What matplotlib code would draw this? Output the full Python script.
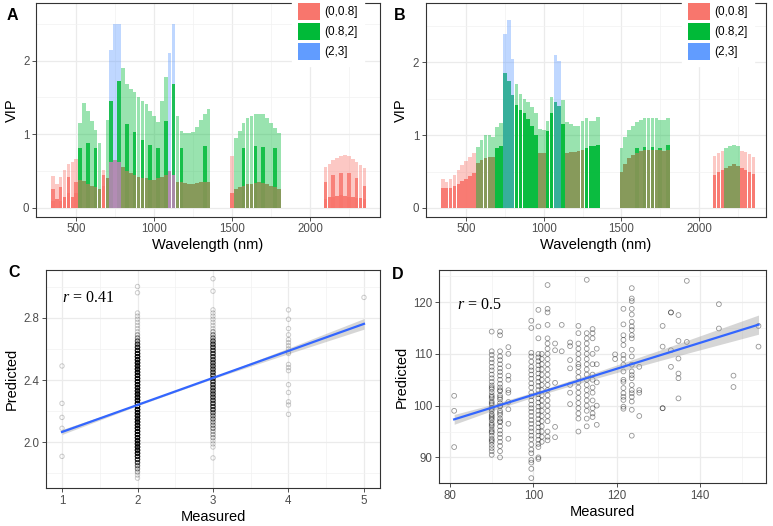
import matplotlib
matplotlib.use('Agg')
import matplotlib.pyplot as plt
import numpy as np
from matplotlib.patches import Patch

plt.rcParams['font.family'] = ['Liberation Sans', 'DejaVu Sans']
plt.rcParams['mathtext.fontset'] = 'custom'
plt.rcParams['mathtext.rm'] = 'Liberation Serif'
plt.rcParams['mathtext.it'] = 'Liberation Serif:italic'

# ---------------- data ----------------
bin_labels = ['(0,0.8]', '(0.8,2]', '(2,3]']
bin_colors = ['#F8766D', '#00BA38', '#619CFF']
bin_edges = [0.8, 2.0]

step = 25
wl_seg1 = np.arange(350, 1351, step)
wl_seg2 = np.arange(1500, 1801, step)
wl_seg3 = np.arange(2100, 2351, step)

# Panel A: upper envelope, dense stripes, dense base
a_upper1 = [0.43,0.32,0.42,0.52,0.60,0.63,0.67,1.15,1.42,1.32,1.18,1.06,0.88,0.52,1.20,2.15,2.50,2.50,1.90,1.68,1.61,1.58,1.50,1.45,1.41,1.32,1.25,1.17,1.45,1.78,2.10,2.50,1.25,1.05,1.02,1.02,1.03,1.10,1.20,1.27,1.35]
a_stripe1 = [0.25,0,0.28,0,0.42,0,0.35,0.82,0,0.88,0,0.82,0,0.45,0,1.45,0,1.72,0,1.14,0,1.03,0,0.92,0,0.85,0,0.82,0,1.18,0,1.68,0,0.82,0,0,0,0,0,0.84,0]
a_base1 = [0.10,0.12,0.10,0.15,0.20,0.15,0.20,0.38,0.36,0.33,0.30,0.28,0.26,0.30,0.40,0.62,0.65,0.62,0.55,0.50,0.48,0.45,0.42,0.40,0.40,0.38,0.38,0.40,0.42,0.45,0.50,0.45,0.35,0.35,0.34,0.33,0.33,0.34,0.35,0.35,0.35]
a_upper2 = [0.70,0.95,1.05,1.15,1.22,1.25,1.27,1.28,1.27,1.22,1.15,1.08,1.02]
a_stripe2 = [0,0,0,0.82,0,0,0.84,0,0.83,0,0,0.81,0]
a_base2 = [0.20,0.25,0.28,0.30,0.32,0.33,0.34,0.35,0.34,0.32,0.30,0.28,0.25]
a_upper3 = [0.55,0.60,0.65,0.68,0.70,0.72,0.70,0.66,0.62,0.58,0.54]
a_stripe3 = [0.35,0,0.45,0,0.48,0,0.47,0,0.40,0,0.30]
a_base3 = [0.12,0.15,0.15,0.16,0.17,0.16,0.15,0.15,0.14,0.13,0.12]

# Panel B
b_upper1 = [0.40,0.36,0.40,0.45,0.52,0.59,0.65,0.70,0.75,0.84,0.93,1.00,1.00,0.97,1.11,1.16,2.39,2.58,2.05,1.70,1.57,1.50,1.46,1.39,1.30,1.09,1.07,1.20,1.52,2.10,2.02,1.48,1.18,1.15,1.12,1.13,1.20,1.23,1.20,1.20,1.25]
b_base1 = [0.27,0.27,0.28,0.30,0.33,0.37,0.40,0.44,0.48,0.62,0.66,0.69,0.70,0.70,0.82,0.85,1.85,1.75,1.55,1.42,1.35,1.30,1.22,1.12,1.00,0.75,0.75,1.05,1.30,1.45,1.40,1.15,0.76,0.77,0.77,0.78,0.79,0.83,0.85,0.85,0.86]
b_upper2 = [0.82,0.97,1.07,1.13,1.18,1.21,1.23,1.23,1.23,1.23,1.21,1.21,1.23]
b_stripe2 = [0,0,0,0,0.82,0,0.84,0,0.84,0,0.83,0,0.86]
b_base2 = [0.50,0.60,0.68,0.73,0.76,0.78,0.79,0.80,0.80,0.79,0.79,0.78,0.80]
b_upper3 = [0.72,0.76,0.78,0.82,0.85,0.86,0.85,0.78,0.77,0.74,0.70]
b_base3 = [0.45,0.50,0.52,0.55,0.58,0.60,0.58,0.55,0.52,0.50,0.46]

# Panel C: measured classes, predicted values (levels + counts for dense columns)
c1_pred = [2.49, 2.25, 2.16, 2.09, 1.91]
c2_levels = [1.77,1.79,1.81,1.83,1.85,1.87,1.89,1.91,1.93,1.95,1.97,1.99,2.01,2.03,2.05,2.07,2.09,2.11,2.13,2.15,2.17,2.19,2.21,2.23,2.25,2.27,2.29,2.31,2.33,2.35,2.37,2.39,2.41,2.43,2.45,2.47,2.49,2.51,2.53,2.55,2.57,2.59,2.61,2.63,2.65,2.67,2.69,2.71,2.73,2.75,2.77,2.79,2.81,2.83,2.96,3.00]
c2_counts = [1,1,2,3,4,6,8,10,12,13,14,14,14,14,14,14,14,14,14,14,14,14,14,14,14,14,14,14,14,14,14,14,14,14,14,14,14,14,14,13,12,10,9,7,5,3,2,1,1,1,1,1,1,1,1,1]
c3_levels = [1.90,1.97,1.99,2.01,2.03,2.05,2.07,2.09,2.11,2.13,2.15,2.17,2.19,2.21,2.23,2.25,2.27,2.29,2.31,2.33,2.35,2.37,2.39,2.41,2.43,2.45,2.47,2.49,2.51,2.53,2.55,2.57,2.59,2.61,2.63,2.65,2.67,2.69,2.71,2.73,2.75,2.77,2.79,2.81,2.83,2.85,2.97,3.05]
c3_counts = [1,1,1,1,2,2,2,3,3,3,4,4,5,7,7,7,7,7,7,7,7,7,7,7,7,7,7,7,7,7,7,7,7,7,7,6,4,3,2,1,1,1,1,1,1,1,1,1]
c4_pred = [2.85, 2.79, 2.73, 2.69, 2.66, 2.64, 2.62, 2.60, 2.58, 2.57, 2.50, 2.48, 2.46, 2.37, 2.32, 2.26, 2.24, 2.18]
c5_pred = [2.93]
c_fit = (1.893, 0.1735)          # intercept, slope
c_band_x = [1, 2, 3, 4, 5]
c_band_hw = [0.016, 0.005, 0.005, 0.018, 0.034]
c_r_text = '0.41'

# Panel D: measured values and predicted values per measured value
d_measured = [81, 90, 92, 94, 99.5, 101.2, 102, 103.4, 105.2, 106.8, 108.8, 110.8, 112.8, 114.2, 115.2,
              119.6, 121.6, 123.6, 125.4, 131, 133, 134.8, 136.8, 144.5, 148, 154]
d_predicted = [
    [101.9, 99.0, 92.0],
    [114.3, 110.5, 109.8, 109.0, 108.3, 107.5, 106.8, 106.0, 105.3, 104.6, 103.9, 103.2, 102.6, 102.0, 101.4, 100.8, 100.2, 99.6, 99.0, 98.4, 97.8, 97.2, 96.6, 96.0, 95.4, 94.8, 94.2, 93.6, 93.0, 92.4, 91.8, 91.2, 90.5, 103.5, 101.7, 100.5, 99.3, 98.1, 97.5, 96.3, 95.0, 93.3],
    [114.3, 113.6, 110.5, 109.5, 108.8, 108.0, 107.2, 106.5, 105.8, 105.0, 104.2, 103.5, 102.8, 102.0, 101.2, 100.5, 99.8, 99.0, 98.2, 97.5, 96.8, 96.0, 95.2, 94.5, 93.8, 93.0, 92.2, 91.2, 90.0, 103.0, 101.6, 100.0, 98.6, 97.0],
    [111.3, 110.0, 107.6, 105.8, 105.0, 103.0, 102.5, 100.7, 99.3, 96.5, 93.6],
    [116.4, 115.0, 110.2, 109.5, 108.5, 107.5, 106.8, 106.0, 105.2, 104.3, 103.5, 102.5, 101.8, 101.0, 100.2, 99.5, 98.8, 98.0, 97.2, 96.5, 95.7, 95.0, 94.2, 93.5, 92.5, 91.5, 90.8, 89.5, 89.0, 87.8, 86.0],
    [118.5, 115.3, 113.0, 110.0, 109.3, 108.6, 107.8, 107.0, 106.2, 105.4, 104.6, 103.8, 103.0, 102.2, 101.4, 100.6, 99.8, 99.0, 98.2, 97.4, 96.6, 95.8, 95.0, 94.2, 93.4, 92.6, 92.0, 90.0, 89.7],
    [110.0, 109.0, 108.0, 107.0, 106.0, 105.0, 104.0, 103.0, 102.0, 101.0, 100.0, 99.0, 98.0, 97.0, 96.0, 95.0, 94.0, 93.0],
    [123.3, 118.7, 118.0, 115.6, 113.0, 112.0, 111.0, 110.0, 109.0, 108.0, 107.0, 106.0, 105.0, 104.0, 103.0, 102.0, 101.0, 100.0, 99.0, 98.0, 97.0, 95.0, 94.0, 93.3],
    [112.0, 110.7, 104.4, 95.9, 93.9],
    [115.6, 110.5],
    [112.2, 111.5, 108.8, 107.2, 104.0, 102.5, 100.3],
    [115.4, 114.0, 112.0, 111.0, 110.0, 109.0, 108.0, 107.5, 106.5, 105.5, 104.5, 103.5, 102.5, 101.5, 100.5, 99.5, 98.5, 97.5, 95.0],
    [124.3, 114.0, 113.0, 112.0, 111.0, 110.0, 109.0, 108.0, 107.0, 106.0, 105.0, 104.0, 103.0, 102.0, 101.0, 100.0, 99.0, 97.5, 96.0],
    [114.8, 114.0, 113.0, 110.0, 108.0, 106.0, 105.0, 103.5, 102.5, 101.0, 99.5, 98.5, 97.8],
    [111.0, 108.0, 104.5, 100.0, 96.3],
    [109.9, 109.0],
    [118.7, 115.7, 113.6, 112.7, 111.7, 109.8, 109.0, 107.9, 106.6, 105.0, 104.6, 103.4, 102.4, 101.7, 101.1, 99.8, 99.4],
    [122.7, 120.7, 120.2, 118.7, 117.6, 116.2, 115.3, 114.6, 113.6, 113.0, 110.8, 109.5, 107.9, 106.6, 105.9, 105.3, 104.0, 103.0, 102.4, 101.7, 100.8, 99.2, 94.2],
    [107.5, 103.0, 102.5, 98.0],
    [99.5, 99.5, 115.4, 111.4],
    [118.0, 118.0, 110.7, 107.5],
    [117.5, 112.5, 109.1, 106.2, 105.3, 101.4],
    [124.1, 112.3],
    [119.6, 114.9],
    [105.8, 103.6],
    [115.4, 111.4],
]
d_fit = (77.04, 0.2507)
d_band_x = [81, 90, 102, 115, 130, 154]
d_band_hw = [0.95, 0.6, 0.45, 0.6, 1.0, 1.85]
d_r_text = '0.5'

# ---------------- drawing ----------------
W, H = 773, 526
fig = plt.figure(figsize=(W / 100, H / 100), dpi=100)


def add_ax(l, t, r, b):
    return fig.add_axes([l / W, 1 - b / H, (r - l) / W, (b - t) / H])


def bin_color(v):
    if v <= bin_edges[0]:
        return bin_colors[0]
    if v <= bin_edges[1]:
        return bin_colors[1]
    return bin_colors[2]


def style(ax, xt, yt, xmin, ymin, xlim, ylim, xlabel, ylabel, yfmt=None):
    ax.set_xlim(*xlim)
    ax.set_ylim(*ylim)
    ax.set_xticks(xt)
    ax.set_yticks(yt)
    if yfmt:
        ax.set_yticklabels([yfmt.format(v) for v in yt])
    ax.set_xticks(xmin, minor=True)
    ax.set_yticks(ymin, minor=True)
    ax.grid(which='major', color='#EBEBEB', lw=0.9)
    ax.grid(which='minor', color='#F2F2F2', lw=0.5)
    ax.set_axisbelow(True)
    for s in ax.spines.values():
        s.set_color('#333333')
        s.set_linewidth(0.8)
    ax.tick_params(which='major', length=2.75, width=0.6, color='#333333',
                   labelsize=8.3, labelcolor='#4D4D4D', pad=2)
    ax.tick_params(which='minor', length=0)
    ax.set_xlabel(xlabel, fontsize=10.5, labelpad=2)
    ax.set_ylabel(ylabel, fontsize=10.5, labelpad=3)


def draw_vip(ax, segments):
    bw = 23
    for wl, up, st, base in segments:
        ax.bar(wl, up, width=bw, color=[bin_color(v) for v in up], alpha=0.4, lw=0)
        if st is not None:
            ax.bar(wl, st, width=bw, color=[bin_color(v) for v in st], alpha=0.85, lw=0)
        ax.bar(wl, base, width=bw, color=[bin_color(v) for v in up], alpha=0.85, lw=0)
        ax.bar(wl, base, width=bw, color=[bin_color(v) for v in base], alpha=0.5, lw=0)


def vip_legend(ax, left_px):
    handles = [Patch(facecolor=c, edgecolor='none') for c in bin_colors]
    leg = ax.legend(handles, bin_labels, loc='upper left',
                    bbox_to_anchor=(left_px / W, 1 + 3 / H), bbox_transform=fig.transFigure,
                    frameon=True, fancybox=False, framealpha=1, edgecolor='white',
                    fontsize=8.5, handlelength=1.9, handleheight=1.9, labelspacing=0.2,
                    handletextpad=0.35, borderpad=0.5, borderaxespad=0)
    leg.set_zorder(10)


# Panel A
axA = add_ax(36, 3.3, 380, 216.7)
draw_vip(axA, [(wl_seg1, a_upper1, a_stripe1, a_base1),
               (wl_seg2, a_upper2, a_stripe2, a_base2),
               (wl_seg3, a_upper3, a_stripe3, a_base3)])
style(axA, [500, 1000, 1500, 2000], [0, 1, 2], [750, 1250, 1750, 2250], [0.5, 1.5, 2.5],
      (242, 2450), (-0.12, 2.78), 'Wavelength (nm)', 'VIP')
vip_legend(axA, 292)

# Panel B
axB = add_ax(425.7, 3.3, 766, 216.7)
draw_vip(axB, [(wl_seg1, b_upper1, None, b_base1),
               (wl_seg2, b_upper2, b_stripe2, b_base2),
               (wl_seg3, b_upper3, None, b_base3)])
style(axB, [500, 1000, 1500, 2000], [0, 1, 2], [750, 1250, 1750, 2250], [0.5, 1.5, 2.5],
      (240, 2431), (-0.12, 2.81), 'Wavelength (nm)', 'VIP')
vip_legend(axB, 682)

# Panel C
axC = add_ax(46, 270, 380, 488.3)
scat_c = dict(s=10, facecolors='none', edgecolors=(0, 0, 0, 0.2), linewidths=0.7)
axC.scatter([1] * len(c1_pred), c1_pred, **scat_c)
c2 = np.repeat(c2_levels, c2_counts)
c3 = np.repeat(c3_levels, c3_counts)
axC.scatter(np.full(len(c2), 2), c2, **scat_c)
axC.scatter(np.full(len(c3), 3), c3, **scat_c)
axC.scatter([4] * len(c4_pred), c4_pred, **scat_c)
axC.scatter([5] * len(c5_pred), c5_pred, **scat_c)
cx = np.array(c_band_x, dtype=float)
cy = c_fit[0] + c_fit[1] * cx
axC.fill_between(cx, cy - np.array(c_band_hw), cy + np.array(c_band_hw), color='#999999', alpha=0.4, lw=0, zorder=3)
axC.plot(cx, cy, color='#3366FF', lw=1.6, zorder=4)
axC.text(0.048, 0.855, r'$r$ = ' + c_r_text, transform=axC.transAxes, fontsize=11.5,
         family='Liberation Serif', va='baseline')
style(axC, [1, 2, 3, 4, 5], [2.0, 2.4, 2.8], [1.5, 2.5, 3.5, 4.5], [1.8, 2.2, 2.6, 3.0],
      (0.788, 5.212), (1.705, 3.106), 'Measured', 'Predicted', yfmt='{:.1f}')

# Panel D
axD = add_ax(439, 270, 766, 483.3)
dx = np.concatenate([[m] * len(p) for m, p in zip(d_measured, d_predicted)])
dy = np.concatenate(d_predicted)
axD.scatter(dx, dy, s=12, facecolors='none', edgecolors=(0, 0, 0, 0.42), linewidths=0.6)
dxx = np.array(d_band_x, dtype=float)
dyy = d_fit[0] + d_fit[1] * dxx
axD.fill_between(dxx, dyy - np.array(d_band_hw), dyy + np.array(d_band_hw), color='#999999', alpha=0.4, lw=0, zorder=3)
axD.plot(dxx, dyy, color='#3366FF', lw=1.6, zorder=4)
axD.text(0.054, 0.817, r'$r$ = ' + d_r_text, transform=axD.transAxes, fontsize=11.5,
         family='Liberation Serif', va='baseline')
style(axD, [80, 100, 120, 140], [90, 100, 110, 120], [90, 110, 130, 150], [85, 95, 105, 115, 125],
      (77.36, 155.8), (85.0, 126.2), 'Measured', 'Predicted')

# Panel letters
for letter, x, y in [('A', 7, 8), ('B', 394, 8), ('C', 8, 265), ('D', 392, 267)]:
    fig.text(x / W, 1 - y / H, letter, fontsize=11.5, fontweight='bold', va='top', ha='left')

fig.savefig('out.png', dpi=100)
